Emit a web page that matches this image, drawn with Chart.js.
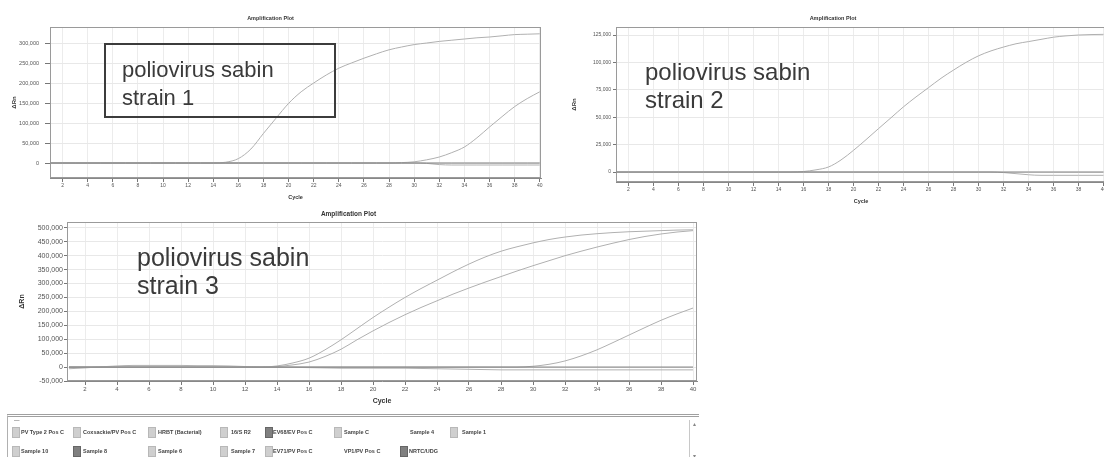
<!DOCTYPE html>
<html>
<head>
<meta charset="utf-8">
<script src="https://cdn.jsdelivr.net/npm/chart.js@4.4.0/dist/chart.umd.min.js"></script>
<style>
  body { margin: 0; width: 1104px; height: 457px; overflow: hidden; background: #fff; position: relative;
         font-family: "Liberation Sans", Arial, sans-serif; }
  .wrap { position: absolute; }
  .note { position: absolute; color: #3a3a3a; line-height: 28px; white-space: nowrap; }
  #box1 { position: absolute; left: 104px; top: 43px; width: 228px; height: 71px; border: 2px solid #3c3c3c; }
  #legend { position: absolute; left: 7px; top: 414px; width: 691px; height: 50px;
            border-top: 3px double #a0a0a0; border-left: 1px solid #b0b0b0; }
  .lg { position: absolute; font-size: 5.5px; color: #444; font-weight: bold; white-space: nowrap; }
  .sq { position: absolute; width: 6px; height: 9px; background: #cfcfcf; border: 1px solid #b8b8b8; }
  .sq.dark { background: #808080; border-color: #666; }
  #scroll { position: absolute; left: 681px; top: 3px; width: 9px; height: 45px; border-left: 1px solid #c8c8c8;
            font-size: 6px; color: #888; text-align: center; line-height: 8px; }
</style>
</head>
<body>
<div class="wrap" style="left:0;top:0;width:548px;height:205px"><canvas id="chart1"></canvas></div>
<div class="wrap" style="left:560px;top:0;width:560px;height:210px"><canvas id="chart2"></canvas></div>
<div class="wrap" style="left:0;top:205px;width:705px;height:201px"><canvas id="chart3"></canvas></div>

<div id="box1"></div>
<div class="note" style="left:122px;top:56px;font-size:22px">poliovirus sabin<br>strain 1</div>
<div class="note" style="left:645px;top:58px;font-size:24px">poliovirus sabin<br>strain 2</div>
<div class="note" style="left:137px;top:243px;font-size:25px">poliovirus sabin<br>strain 3</div>

<div id="legend">
  <div class="lg" style="left:6px;top:0px;font-weight:normal">&mdash;</div>
  <div class="sq" style="left:4px;top:10px"></div><div class="lg" style="left:13px;top:12px">PV Type 2 Pos C</div>
  <div class="sq" style="left:65px;top:10px"></div><div class="lg" style="left:75px;top:12px">Coxsackie/PV Pos C</div>
  <div class="sq" style="left:140px;top:10px"></div><div class="lg" style="left:150px;top:12px">HRBT (Bacterial)</div>
  <div class="sq" style="left:212px;top:10px"></div><div class="lg" style="left:223px;top:12px">16/S R2</div>
  <div class="sq dark" style="left:257px;top:10px"></div><div class="lg" style="left:265px;top:12px">EV68/EV Pos C</div>
  <div class="sq" style="left:326px;top:10px"></div><div class="lg" style="left:336px;top:12px">Sample C</div>
  <div class="lg" style="left:402px;top:12px">Sample 4</div>
  <div class="sq" style="left:442px;top:10px"></div><div class="lg" style="left:454px;top:12px">Sample 1</div>

  <div class="sq" style="left:4px;top:29px"></div><div class="lg" style="left:13px;top:31px">Sample 10</div>
  <div class="sq dark" style="left:65px;top:29px"></div><div class="lg" style="left:75px;top:31px">Sample 8</div>
  <div class="sq" style="left:140px;top:29px"></div><div class="lg" style="left:150px;top:31px">Sample 6</div>
  <div class="sq" style="left:212px;top:29px"></div><div class="lg" style="left:223px;top:31px">Sample 7</div>
  <div class="sq" style="left:257px;top:29px"></div><div class="lg" style="left:265px;top:31px">EV71/PV Pos C</div>
  <div class="lg" style="left:336px;top:31px">VP1/PV Pos C</div>
  <div class="sq dark" style="left:392px;top:29px"></div><div class="lg" style="left:401px;top:31px">NRTC/UDG</div>
  <div id="scroll">&#9652;<br><br><br><br>&#9662;</div>
</div>

<script>
// cycles 1..40
var cycles = [1, 2, 3, 4, 5, 6, 7, 8, 9, 10, 11, 12, 13, 14, 15, 16, 17, 18, 19, 20,
  21, 22, 23, 24, 25, 26, 27, 28, 29, 30, 31, 32, 33, 34, 35, 36, 37, 38, 39, 40];
var cycleTicks = [2, 4, 6, 8, 10, 12, 14, 16, 18, 20, 22, 24, 26, 28, 30, 32, 34, 36, 38, 40];

// y tick labels of each plot
var y1Ticks = [0, 50000, 100000, 150000, 200000, 250000, 300000];
var y2Ticks = [0, 25000, 50000, 75000, 100000, 125000];
var y3Ticks = [-50000, 0, 50000, 100000, 150000, 200000, 250000, 300000, 350000, 400000, 450000, 500000];

// strain 1 plot
var s1Early = [0, 0, 0, 0, 0, 0, 0, 0, 0, 0, 0, 0, 0, 0, 2000, 11000, 35000, 74000, 112000, 149000,
  178000, 200000, 220000, 237000, 250000, 262000, 273000, 283000, 290000, 296000,
  300000, 304000, 307000, 310000, 313000, 315000, 318000, 321000, 322000, 323000];
var s1Late = [0, 0, 0, 0, 0, 0, 0, 0, 0, 0, 0, 0, 0, 0, 0, 0, 0, 0, 0, 0,
  0, 0, 0, 0, 0, 0, 0, 0, 1000, 3000, 8000, 15000, 26000, 40000, 63000, 90000, 116000, 141000, 161000, 178000];
var s1Drift = [0, 0, 0, 0, 0, 0, 0, 0, 0, 0, 0, 0, 0, 0, 0, 0, 0, 0, 0, 0,
  0, 0, 0, 0, 0, 0, 0, 0, 0, 0, -1000, -4000, -5000, -5000, -5000, -5000, -5000, -5000, -5000, -5000];
var s1Base = [0, 0, 0, 0, 0, 0, 0, 0, 0, 0, 0, 0, 0, 0, 0, 0, 0, 0, 0, 0,
  0, 0, 0, 0, 0, 0, 0, 0, 0, 0, 0, 0, 0, 0, 0, 0, 0, 0, 0, 0];

// strain 2 plot
var s2Curve = [0, 0, 0, 0, 0, 0, 0, 0, 0, 0, 0, 0, 0, 0, 0, 500, 2000, 4600, 11000, 19800,
  29500, 39600, 49500, 59500, 68500, 77000, 85500, 93000, 100000, 106000,
  110500, 114000, 117000, 119000, 121000, 123000, 124200, 125000, 125400, 125600];
var s2Drift = [0, 0, 0, 0, 0, 0, 0, 0, 0, 0, 0, 0, 0, 0, 0, 0, 0, 0, 0, 0,
  0, 0, 0, 0, 0, 0, 0, 0, 0, 0, 0, -500, -1500, -2500, -3000, -3000, -3000, -3000, -3000, -3000];
var s2Base = [0, 0, 0, 0, 0, 0, 0, 0, 0, 0, 0, 0, 0, 0, 0, 0, 0, 0, 0, 0,
  0, 0, 0, 0, 0, 0, 0, 0, 0, 0, 0, 0, 0, 0, 0, 0, 0, 0, 0, 0];

// strain 3 plot
var s3Upper = [0, 0, 0, 0, 0, 0, 0, 0, 0, 0, 0, 0, 0, 4000, 15000, 32000, 62000, 98000, 138000, 178000,
  215000, 250000, 282000, 312000, 342000, 370000, 395000, 416000, 432000, 446000,
  458000, 467000, 474000, 479000, 483000, 486000, 488000, 490000, 492000, 493000];
var s3Lower = [0, 0, 0, 0, 0, 0, 0, 0, 0, 0, 0, 0, 0, 2000, 8000, 18000, 38000, 64000, 98000, 130000,
  160000, 188000, 214000, 238000, 262000, 284000, 305000, 325000, 345000, 364000,
  382000, 400000, 416000, 431000, 445000, 458000, 469000, 478000, 485000, 490000];
var s3Late = [0, 0, 0, 0, 0, 0, 0, 0, 0, 0, 0, 0, 0, 0, 0, 0, 0, 0, 0, 0,
  0, 0, 0, 0, 0, 0, 0, 0, 0, 3000, 10000, 22000, 40000, 62000, 88000, 115000, 142000, 168000, 191000, 212000];
var s3Drift = [-6000, -3000, 1000, 4000, 6000, 6000, 6000, 6000, 5000, 5000, 4000, 2000, 0, -1000, -1000, -2000, -3000, -4000, -4000, -4000,
  -4000, -4000, -5000, -6000, -7000, -8000, -9000, -10000, -10000, -10000,
  -10000, -10000, -10000, -10000, -10000, -10000, -10000, -10000, -10000, -10000];
var s3Base = [0, 0, 0, 0, 0, 0, 0, 0, 0, 0, 0, 0, 0, 0, 0, 0, 0, 0, 0, 0,
  0, 0, 0, 0, 0, 0, 0, 0, 0, 0, 0, 0, 0, 0, 0, 0, 0, 0, 0, 0];

var curveColor = '#b0b0b0';
var baseColor = '#7a7a7a';

// box round the plot area
const frame = {
  id: 'frame',
  beforeDatasetsDraw(chart) {
    var a = chart.chartArea, ctx = chart.ctx;
    ctx.save();
    ctx.strokeStyle = '#9a9a9a';
    ctx.lineWidth = 1;
    ctx.strokeRect(a.left + 0.5, a.top + 0.5, a.right - a.left - 1, a.bottom - a.top - 1);
    ctx.restore();
  }
};

function toPoints(values) {
  return cycles.map((c, i) => ({ x: c, y: values[i] }));
}

function plot(id, o) {
  return new Chart(document.getElementById(id), {
    type: 'line',
    data: {
      datasets: o.series.map(s => ({
        data: toPoints(s[0]),
        borderColor: s[1],
        borderWidth: 1,
        pointRadius: 0,
        cubicInterpolationMode: 'monotone',
        fill: false
      }))
    },
    options: {
      responsive: true,
      maintainAspectRatio: false,
      animation: false,
      layout: { padding: { left: 0, right: o.padRight, top: 0, bottom: 0 } },
      plugins: {
        legend: { display: false },
        tooltip: { enabled: false },
        title: {
          display: true, text: 'Amplification Plot', color: '#333',
          font: { size: o.titleSize, weight: 'bold', family: 'Liberation Sans' },
          padding: { top: o.titleTop, bottom: o.titleBottom }
        }
      },
      scales: {
        x: {
          type: 'linear', min: o.xMin, max: o.xMax,
          afterBuildTicks: s => { s.ticks = cycleTicks.map(v => ({ value: v })); },
          afterFit: s => { s.height = o.xHeight; },
          ticks: { autoSkip: false, maxRotation: 0,
                   color: '#555', padding: 1, font: { size: o.xTickSize, family: 'Liberation Sans' } },
          grid: { color: '#ececec', tickColor: '#777', tickLength: 4 },
          border: { color: '#888' },
          title: { display: true, text: 'Cycle', color: '#333',
                   font: { size: o.xTitleSize, weight: 'bold', family: 'Liberation Sans' },
                   padding: { top: 0, bottom: o.xTitleBottom } }
        },
        y: {
          min: o.yMin, max: o.yMax,
          afterBuildTicks: s => { s.ticks = o.yTicks.map(v => ({ value: v })); },
          afterFit: s => { s.width = o.yWidth; },
          ticks: { autoSkip: false, color: '#555', padding: o.yTickPad,
                   font: { size: o.yTickSize, family: 'Liberation Sans' },
                   callback: v => v.toLocaleString('en-US') },
          grid: { color: '#e8e8e8', tickColor: '#777', tickLength: o.yTickLen },
          border: { color: '#888' },
          title: { display: true, text: 'ΔRn', color: '#333',
                   font: { size: o.yTitleSize, weight: 'bold', family: 'Liberation Sans' },
                   padding: { top: o.yTitleLeft, bottom: 0 } }
        }
      }
    },
    plugins: [frame]
  });
}

plot('chart1', {
  series: [[s1Base, baseColor], [s1Drift, curveColor], [s1Late, curveColor], [s1Early, curveColor]],
  padRight: 7, titleSize: 5.5, titleTop: 14.7, titleBottom: 5.7,
  xMin: 1, xMax: 40.1, xHeight: 27, xTickSize: 5, xTitleSize: 5.5, xTitleBottom: 4.7,
  yMin: -37500, yMax: 340000, yTicks: y1Ticks, yWidth: 50, yTickPad: 6, yTickLen: 5,
  yTickSize: 5.5, yTitleSize: 6, yTitleLeft: 10.7
});

plot('chart2', {
  series: [[s2Base, baseColor], [s2Drift, curveColor], [s2Curve, curveColor]],
  padRight: 14, titleSize: 5.5, titleTop: 14.7, titleBottom: 5.7,
  xMin: 1, xMax: 40.2, xHeight: 28, xTickSize: 5, xTitleSize: 5.5, xTitleBottom: 5.7,
  yMin: -9100, yMax: 132300, yTicks: y2Ticks, yWidth: 56, yTickPad: 2, yTickLen: 3,
  yTickSize: 5, yTitleSize: 6, yTitleLeft: 10.4
});

plot('chart3', {
  series: [[s3Base, baseColor], [s3Drift, curveColor], [s3Late, curveColor], [s3Lower, curveColor], [s3Upper, curveColor]],
  padRight: 8, titleSize: 6.5, titleTop: 5.1, titleBottom: 4.1,
  xMin: 0.875, xMax: 40.25, xHeight: 25, xTickSize: 6, xTitleSize: 7, xTitleBottom: 0.8,
  yMin: -50000, yMax: 521000, yTicks: y3Ticks, yWidth: 67, yTickPad: 1, yTickLen: 3,
  yTickSize: 7, yTitleSize: 7, yTitleLeft: 17.8
});
</script>
</body>
</html>
